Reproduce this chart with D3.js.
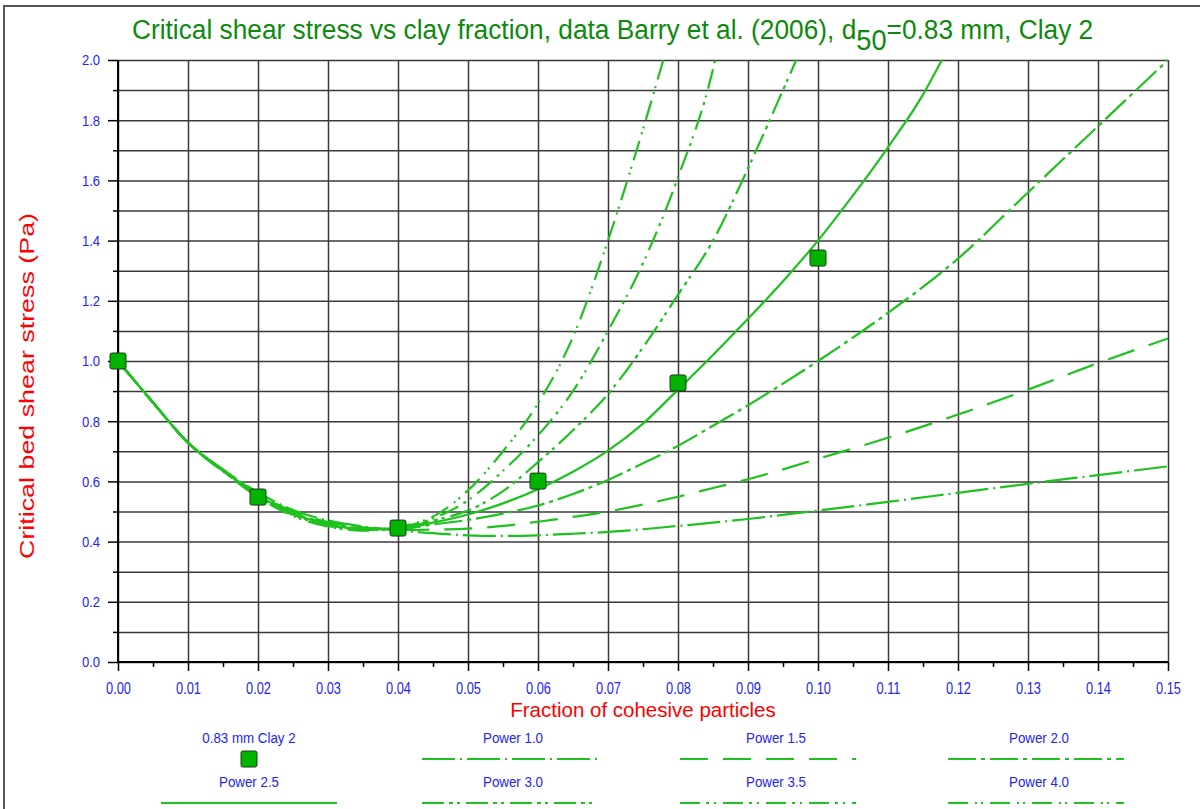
<!DOCTYPE html>
<html><head><meta charset="utf-8">
<script src="https://cdn.jsdelivr.net/npm/d3@7"></script>
<style>
html,body{margin:0;padding:0;background:#fff;}
svg{display:block;font-family:"Liberation Sans",Arial,sans-serif;}
</style></head>
<body><svg id="c" width="1200" height="809"></svg>
<script>
// ---------------- data ----------------
const dataFrac = [0, 0.02, 0.04, 0.06, 0.08, 0.10];
const dataTau  = [1.0, 0.548, 0.445, 0.601, 0.927, 1.342];

const fracA = [0,.005,.01,.015,.02,.025,.03,.035,.04,.045,.05,.055,.06,.065,.07,.075,.08,.085,.09,.095,.10,.11,.12,.13,.14,.15];
const tauP10 = [1.0,.862,.73,.64,.563,.505,.47,.45,.437,.428,.421,.419,.421,.426,.432,.441,.452,.463,.475,.489,.503,.532,.562,.592,.621,.650];
const tauP15 = [1.0,.862,.729,.638,.56,.50,.465,.447,.438,.44,.443,.452,.466,.482,.50,.523,.549,.578,.607,.64,.675,.745,.822,.905,.993,1.075];
const tauP20 = [1.0,.862,.729,.637,.557,.496,.461,.445,.442,.457,.472,.493,.52,.558,.605,.66,.718,.785,.853,.925,1.0,1.16,1.34,1.56,1.78,2.0];

const fracP25 = [0,.005,.01,.015,.02,.025,.03,.035,.04,.045,.05,.055,.06,.065,.07,.075,.08,.085,.09,.095,.10,.105,.11,.115,.1177];
const tauP25  = [1.0,.862,.728,.636,.554,.493,.457,.442,.443,.463,.49,.527,.574,.632,.702,.792,.905,1.02,1.14,1.265,1.40,1.55,1.71,1.885,2.0];

const fracP30 = [0,.005,.01,.015,.02,.025,.03,.035,.04,.045,.05,.055,.06,.065,.07,.075,.08,.085,.09,.095,.0969];
const tauP30  = [1.0,.862,.728,.635,.552,.49,.455,.44,.445,.47,.503,.568,.664,.77,.89,1.045,1.22,1.40,1.64,1.90,2.0];

const fracP35 = [0,.005,.01,.015,.02,.025,.03,.035,.04,.045,.05,.055,.06,.065,.07,.075,.08,.085,.0853];
const tauP35  = [1.0,.862,.728,.634,.55,.488,.452,.438,.447,.477,.537,.635,.753,.90,1.10,1.325,1.61,1.97,2.0];

const fracP40 = [0,.005,.01,.015,.02,.025,.03,.035,.04,.045,.05,.055,.06,.065,.07,.075,.0779];
const tauP40  = [1.0,.862,.728,.633,.548,.485,.45,.436,.449,.483,.57,.70,.859,1.08,1.40,1.77,2.0];

const seriesNames = ["Power 1.0","Power 1.5","Power 2.0","Power 2.5","Power 3.0","Power 3.5","Power 4.0"];
const dataName = "0.83 mm Clay 2";

const xTickValues = [0,.01,.02,.03,.04,.05,.06,.07,.08,.09,.10,.11,.12,.13,.14,.15];
const xTickLabels = ["0.00","0.01","0.02","0.03","0.04","0.05","0.06","0.07","0.08","0.09","0.10","0.11","0.12","0.13","0.14","0.15"];
const yTickValues = [0,.2,.4,.6,.8,1.0,1.2,1.4,1.6,1.8,2.0];
const yTickLabels = ["0.0","0.2","0.4","0.6","0.8","1.0","1.2","1.4","1.6","1.8","2.0"];

// ---------------- layout ----------------
const svg = d3.select("#c");
const L=118, R=1168, T=60, B=662;
const x = d3.scaleLinear().domain([0,0.15]).range([L,R]);
const y = d3.scaleLinear().domain([0,2]).range([B,T]);

const lineColor = "#1ec21e";
const dashes = {
  "Power 1.0":"33,5,2,5",
  "Power 1.5":"28,15",
  "Power 2.0":"28,5,4,5",
  "Power 2.5":null,
  "Power 3.0":"22,5,4,4,3,6",
  "Power 3.5":"20,6,3,5,2,7",
  "Power 4.0":"20,7,2,4,2,7"
};

function condense(sel, f){
  sel.each(function(){
    const n=this.getComputedTextLength();
    this.setAttribute("textLength", n*f);
    this.setAttribute("lengthAdjust","spacingAndGlyphs");
  });
}

// outer frame
svg.append("path").attr("d","M4,812 L4,6 L1204,6").attr("fill","none").attr("stroke","#555").attr("stroke-width",2);

// grid
const minorX = d3.range(1,30,2).map(i=>i*0.005);
const gridY = d3.range(0,21).map(i=>i*0.1);
svg.append("g").attr("transform",`translate(0,${B})`)
  .call(d3.axisBottom(x).tickValues(xTickValues).tickSize(-(B-T)).tickFormat(""))
  .call(g=>{g.select(".domain").remove(); g.selectAll("line").attr("stroke","#3a3a3a").attr("stroke-width",1.5);});
svg.append("g").attr("transform",`translate(${L},0)`)
  .call(d3.axisLeft(y).tickValues(gridY).tickSize(-(R-L)).tickFormat(""))
  .call(g=>{g.select(".domain").remove(); g.selectAll("line").attr("stroke","#3a3a3a").attr("stroke-width",1.5);});

// axes ticks
const xAx = svg.append("g").attr("transform",`translate(0,${B})`)
  .call(d3.axisBottom(x).tickValues(xTickValues).tickSize(9).tickPadding(8).tickFormat((d,i)=>xTickLabels[i]));
xAx.select(".domain").attr("stroke","#000").attr("stroke-width",2).attr("d",`M${L},0H${R}`);
xAx.selectAll("line").attr("stroke","#000").attr("stroke-width",1.5);
xAx.selectAll("text").attr("fill","#2222ff").attr("font-size",16).attr("font-family","Liberation Sans, Arial, sans-serif").attr("dy","0.95em");
svg.append("g").attr("transform",`translate(0,${B})`)
  .call(d3.axisBottom(x).tickValues(minorX).tickSize(5).tickFormat(""))
  .call(g=>{g.select(".domain").remove(); g.selectAll("line").attr("stroke","#000").attr("stroke-width",1.5);});

const yAx = svg.append("g").attr("transform",`translate(${L},0)`)
  .call(d3.axisLeft(y).tickValues(yTickValues).tickSize(10).tickPadding(8).tickFormat((d,i)=>yTickLabels[i]));
yAx.select(".domain").attr("stroke","#000").attr("stroke-width",2).attr("d",`M0,${B}V${T}`);
yAx.selectAll("line").attr("stroke","#000").attr("stroke-width",1.5);
yAx.selectAll("text").attr("fill","#2222ff").attr("font-size",15.5).attr("font-family","Liberation Sans, Arial, sans-serif");
svg.append("g").attr("transform",`translate(${L},0)`)
  .call(d3.axisLeft(y).tickValues(d3.range(1,20,2).map(i=>i*0.1)).tickSize(5).tickFormat(""))
  .call(g=>{g.select(".domain").remove(); g.selectAll("line").attr("stroke","#000").attr("stroke-width",1.5);});

condense(xAx.selectAll("text"), 0.80);
condense(yAx.selectAll("text"), 0.84);

// title (single text element, subscript as tspan, horizontally condensed)
const title = svg.append("text").attr("fill","#0c8a0c").attr("font-size",28)
  .attr("transform","translate(132,38.5) scale(0.939,1)").attr("x",0).attr("y",0);
title.append("tspan").text("Critical shear stress vs clay fraction, data Barry et al. (2006), d");
title.append("tspan").attr("font-size",29).attr("dy",11.5).text("50");
title.append("tspan").attr("dy",-11.5).text("=0.83 mm, Clay 2");

// axis titles
svg.append("text").attr("x",643).attr("y",717).attr("text-anchor","middle")
  .attr("fill","#ff0000").attr("font-size",20.5).text("Fraction of cohesive particles");
const yl = svg.append("text").attr("transform","translate(34,386) rotate(-90)").attr("text-anchor","middle")
  .attr("fill","#ff0000").attr("font-size",20.5).text("Critical bed shear stress (Pa)");
yl.attr("textLength",346).attr("lengthAdjust","spacingAndGlyphs");

// curves
svg.append("clipPath").attr("id","pc").append("rect").attr("x",L).attr("y",T-2).attr("width",R-L).attr("height",B-T+2);
const series = [
  {name:"Power 1.0", fx:fracA, ty:tauP10},
  {name:"Power 1.5", fx:fracA, ty:tauP15},
  {name:"Power 2.0", fx:fracA, ty:tauP20},
  {name:"Power 2.5", fx:fracP25, ty:tauP25},
  {name:"Power 3.0", fx:fracP30, ty:tauP30},
  {name:"Power 3.5", fx:fracP35, ty:tauP35},
  {name:"Power 4.0", fx:fracP40, ty:tauP40}
];
const line = d3.line().x(d=>x(d[0])).y(d=>y(d[1])).curve(d3.curveMonotoneX);
const cg = svg.append("g").attr("clip-path","url(#pc)");
series.forEach(s=>{
  cg.append("path").datum(s.fx.map((f,i)=>[f,s.ty[i]]))
    .attr("d",line).attr("fill","none").attr("stroke",lineColor).attr("stroke-width",2.2)
    .attr("stroke-dasharray",dashes[s.name]);
});

// data markers
svg.append("g").selectAll("rect").data(dataFrac.map((f,i)=>[f,dataTau[i]])).join("rect")
  .attr("x",d=>x(d[0])-8).attr("y",d=>y(d[1])-8).attr("width",16).attr("height",16).attr("rx",2)
  .attr("fill","#00b400").attr("stroke","#1c3a1c").attr("stroke-width",1);

// legend
const textCenters = [249, 513, 776, 1039];
const lineCenters = [249, 510, 768, 1036];
const legendItems = [{name:dataName, marker:true}].concat(seriesNames.map(n=>({name:n})));
const lg = svg.append("g");
legendItems.forEach((it,i)=>{
  const col = i%4, row = Math.floor(i/4);
  const ty = 743 + row*44, ly = 759 + row*44;
  const t = lg.append("text").attr("x",textCenters[col]).attr("y",ty).attr("text-anchor","middle")
    .attr("fill","#2222ff").attr("font-size",15.5).text(it.name);
  condense(t, 0.86);
  const cx = lineCenters[col];
  if(it.marker){
    lg.append("rect").attr("x",cx-8).attr("y",ly-8).attr("width",16).attr("height",16).attr("rx",2)
      .attr("fill","#00b400").attr("stroke","#1c3a1c").attr("stroke-width",1);
  } else {
    lg.append("line").attr("x1",cx-88).attr("x2",cx+88).attr("y1",ly).attr("y2",ly)
      .attr("stroke",lineColor).attr("stroke-width",2.2).attr("stroke-dasharray",dashes[it.name]);
  }
});
</script></body></html>
